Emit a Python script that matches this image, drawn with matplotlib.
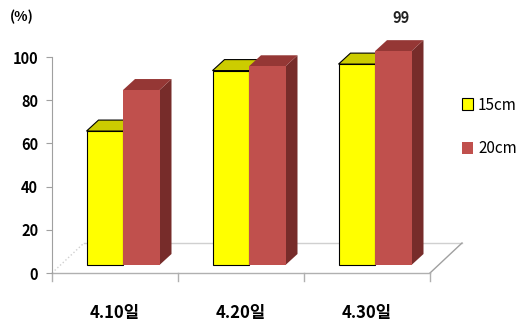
import matplotlib
matplotlib.use("Agg")
import matplotlib.pyplot as plt
from matplotlib.patches import Polygon

plt.rcParams['font.family'] = ['Noto Sans CJK KR', 'DejaVu Sans']

# 데이터
categories = ['4.10일', '4.20일', '4.30일']
series_names = ['15cm', '20cm']
v15 = [62, 90, 93]
v20 = [81, 92, 99]
yticks = [0, 20, 40, 60, 80, 100]

fig = plt.figure(figsize=(5.29, 3.29), dpi=100)
W, H = 529, 329
ax = fig.add_axes([52 / W, 1 - 273 / H, (430 - 52) / W, (273 - 57) / H])
ax.set_xlim(-0.5, 2.5)
ax.set_ylim(0, 100)

# 3D 오프셋 (데이터 단위)
px_x = 3 / (430 - 52)
px_y = 100 / (273 - 57)
fx, fy = 8 * px_x, 8 * px_y        # 앞면 위치
dx, dy = 12 * px_x, 11 * px_y      # 막대 깊이
wx, wy = 32 * px_x, 30 * px_y      # 바닥 깊이

# 바닥
ax.plot([-0.5 + wx, 2.5 + wx], [wy, wy], color='#D0D0D0', lw=1, clip_on=False, zorder=1)
ax.plot([-0.5, -0.5 + wx], [0, wy], color='#D0D0D0', lw=1, ls=':', clip_on=False, zorder=1)
ax.plot([2.5, 2.5 + wx], [0, wy], color='#A0A0A0', lw=1, clip_on=False, zorder=1)
ax.plot([-0.5, 2.5], [0, 0], color='#B0B0B0', lw=1, clip_on=False, zorder=1)
for t in [-0.5, 0.5, 1.5, 2.5]:
    ax.plot([t, t], [0, -8 * px_y], color='#B0B0B0', lw=1, clip_on=False, zorder=1)

bw = 36.5 * px_x
x = list(range(len(categories)))
x15 = [i - bw / 2 + fx for i in x]
x20 = [i + bw / 2 + fx for i in x]

def draw_3d(xs, vals, top, side, edge, z):
    for xc, v in zip(xs, vals):
        x0, x1 = xc - bw / 2, xc + bw / 2
        y0, y1 = fy, fy + v
        ax.add_patch(Polygon([(x1, y0), (x1 + dx, y0 + dy), (x1 + dx, y1 + dy), (x1, y1)],
                             closed=True, facecolor=side, edgecolor=edge, lw=0.8,
                             clip_on=False, zorder=z))
        ax.add_patch(Polygon([(x0, y1), (x0 + dx, y1 + dy), (x1 + dx, y1 + dy), (x1, y1)],
                             closed=True, facecolor=top, edgecolor=edge, lw=0.8,
                             clip_on=False, zorder=z))

draw_3d(x15, v15, '#CCCC00', '#B3B300', 'black', 2)
b15 = ax.bar(x15, v15, bw, bottom=fy, color='#FFFF00', edgecolor='black', lw=0.8,
             label=series_names[0], zorder=3, clip_on=False)
draw_3d(x20, v20, '#953735', '#772C2A', 'none', 4)
b20 = ax.bar(x20, v20, bw, bottom=fy, color='#C0504D', edgecolor='none',
             label=series_names[1], zorder=5, clip_on=False)

# 최고값 표시
fig.text(401 / W, 1 - 18 / H, '99', ha='center', va='center', fontsize=10.5,
         fontweight='bold', color='#222222')

# 축
for s in ['top', 'right', 'bottom']:
    ax.spines[s].set_visible(False)
ax.spines['left'].set_color('#A0A0A0')
ax.set_yticks(yticks)
ax.set_yticklabels([str(t) for t in yticks], fontsize=10.5, fontweight='bold')
ax.tick_params(axis='y', length=4, color='#A0A0A0', pad=6)
ax.set_xticks(x)
ax.set_xticklabels(categories, fontsize=12, fontweight='bold')
ax.tick_params(axis='x', length=0, pad=22)

fig.text(22 / W, 1 - 17 / H, '(%)', ha='center', va='center', fontsize=10, fontweight='bold')

ax.legend(handles=[b15, b20], loc='center left', bbox_to_anchor=(462 / W, 1 - 127 / H),
          bbox_transform=fig.transFigure, frameon=False, fontsize=11,
          handlelength=0.75, handleheight=0.8, handletextpad=0.3, labelspacing=1.75,
          borderaxespad=0, borderpad=0)

fig.savefig('out.png', dpi=100)
